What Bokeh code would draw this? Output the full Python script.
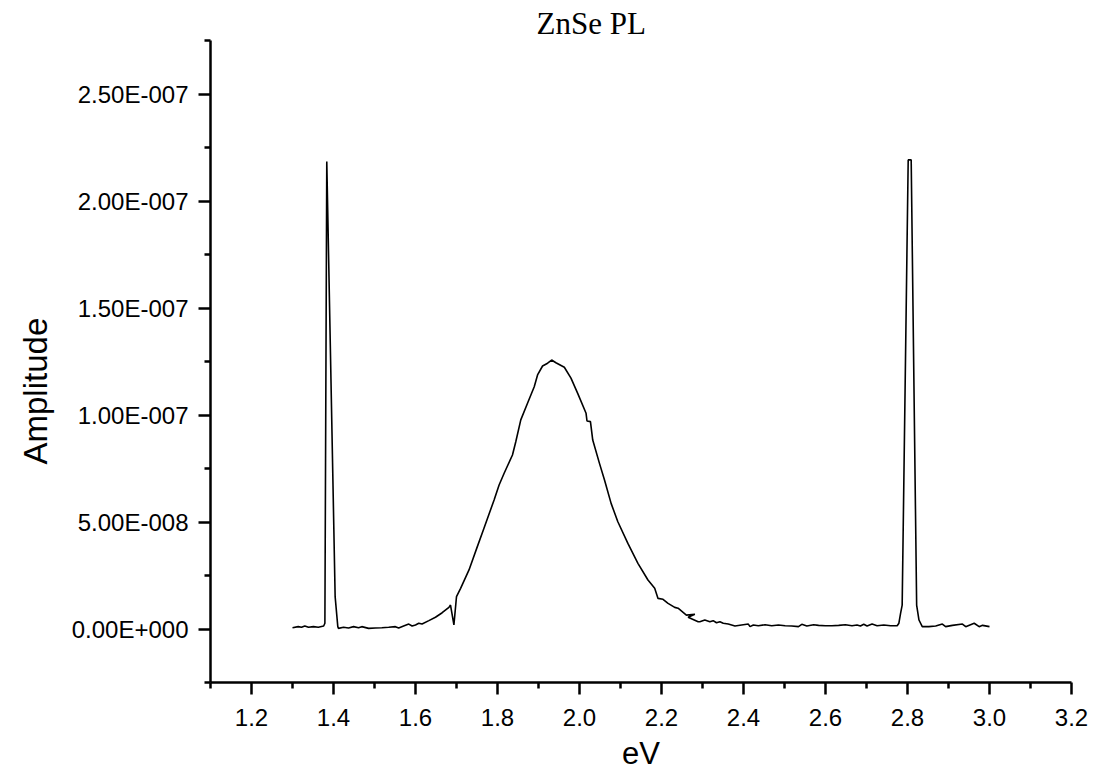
from bokeh.plotting import figure
from bokeh.models import Range1d, FixedTicker, Title
from bokeh.embed import file_html
from bokeh.resources import INLINE

# ---- data ----
energy_ev = [
    1.300, 1.314, 1.322, 1.330, 1.339, 1.351, 1.363, 1.376, 1.379, 1.3836,
    1.404, 1.4105, 1.4122, 1.4245, 1.4367, 1.449, 1.461, 1.469, 1.4857, 1.502,
    1.518, 1.5346, 1.551, 1.559, 1.571, 1.5836, 1.5917, 1.600, 1.608, 1.616,
    1.6326, 1.6487, 1.6651, 1.6815, 1.6854, 1.6937, 1.700, 1.710, 1.7305, 1.7508,
    1.767, 1.7917, 1.8039, 1.8162, 1.8365, 1.8446, 1.8568, 1.8732, 1.8896, 1.8977,
    1.9099, 1.9222, 1.932, 1.9425, 1.963, 1.9792, 1.9956, 2.016, 2.0183, 2.0267,
    2.0323, 2.0487, 2.061, 2.0771, 2.0935, 2.118, 2.1425, 2.167, 2.1834, 2.1915,
    2.2037, 2.216, 2.2323, 2.2404, 2.2607, 2.2813, 2.2649, 2.2894, 2.2935, 2.3057,
    2.318, 2.326, 2.3341, 2.3425, 2.3506, 2.3628, 2.3792, 2.3953, 2.4118, 2.4159,
    2.424, 2.4362, 2.4526, 2.4688, 2.4852, 2.5016, 2.5178, 2.5341, 2.5422, 2.5545,
    2.5709, 2.5831, 2.5995, 2.6157, 2.6321, 2.6485, 2.6646, 2.6769, 2.6852, 2.6933,
    2.7014, 2.7136, 2.7258, 2.7422, 2.7586, 2.7748, 2.779, 2.7831, 2.787, 2.8017,
    2.809, 2.8223, 2.828, 2.836, 2.852, 2.8688, 2.885, 2.893, 2.9094, 2.934,
    2.942, 2.9626, 2.9748, 2.983, 3.000,
]
amplitude_e8 = [
    0.06, 0.11, 0.08, 0.14, 0.08, 0.11, 0.08, 0.14, 0.27, 21.84,
    1.51, 0.11, 0.03, 0.08, 0.05, 0.11, 0.06, 0.11, 0.03, 0.05,
    0.06, 0.08, 0.11, 0.05, 0.14, 0.23, 0.14, 0.19, 0.27, 0.23,
    0.39, 0.55, 0.76, 1.01, 1.12, 0.19, 1.51, 1.90, 2.76, 3.85,
    4.71, 6.03, 6.73, 7.28, 8.13, 8.75, 9.77, 10.55, 11.32, 11.87,
    12.29, 12.42, 12.57, 12.44, 12.23, 11.72, 11.01, 10.08, 9.72, 9.69,
    8.83, 7.74, 6.96, 5.87, 5.01, 4.00, 3.07, 2.29, 1.90, 1.43,
    1.39, 1.20, 1.01, 0.97, 0.65, 0.69, 0.55, 0.34, 0.34, 0.42,
    0.34, 0.39, 0.29, 0.34, 0.27, 0.23, 0.14, 0.19, 0.23, 0.11,
    0.19, 0.15, 0.20, 0.15, 0.19, 0.15, 0.14, 0.11, 0.22, 0.14,
    0.20, 0.17, 0.15, 0.15, 0.17, 0.20, 0.15, 0.19, 0.14, 0.22,
    0.14, 0.23, 0.15, 0.19, 0.15, 0.15, 0.27, 0.73, 1.12, 21.92,
    21.92, 1.12, 0.42, 0.11, 0.11, 0.14, 0.23, 0.11, 0.17, 0.23,
    0.11, 0.27, 0.11, 0.17, 0.11,
]
amplitude = [a * 1e-8 for a in amplitude_e8]

x_ticks = [1.2, 1.4, 1.6, 1.8, 2.0, 2.2, 2.4, 2.6, 2.8, 3.0, 3.2]
x_tick_labels = ["1.2", "1.4", "1.6", "1.8", "2.0", "2.2", "2.4", "2.6", "2.8", "3.0", "3.2"]
x_minor = [1.1, 1.3, 1.5, 1.7, 1.9, 2.1, 2.3, 2.5, 2.7, 2.9, 3.1]
y_ticks = [0.0, 5e-08, 1e-07, 1.5e-07, 2e-07, 2.5e-07]
y_tick_labels = ["0.00E+000", "5.00E-008", "1.00E-007", "1.50E-007", "2.00E-007", "2.50E-007"]
y_minor = [-2.5e-08, 2.5e-08, 7.5e-08, 1.25e-07, 1.75e-07, 2.25e-07, 2.75e-07]

title_text = "ZnSe PL"
x_label = "eV"
y_label = "Amplitude"

# ---- layout ----
X0, X1 = 1.1, 3.2
Y0, Y1 = -2.5e-08, 2.75e-07
W, H = 1092, 780
LEFT, TOP = 210, 40
FRAME_W, FRAME_H = 861, 642

p = figure(width=W, height=H, x_range=Range1d(X0, X1), y_range=Range1d(Y0, Y1),
           output_backend="svg", toolbar_location=None,
           min_border_left=LEFT, min_border_top=TOP,
           min_border_right=W - LEFT - FRAME_W, min_border_bottom=H - TOP - FRAME_H)
p.outline_line_color = None
p.grid.visible = False
p.background_fill_color = "white"
p.border_fill_color = "white"

p.line(energy_ev, amplitude, line_color="black", line_width=1.6)

for ax in (p.xaxis[0], p.yaxis[0]):
    ax.axis_line_width = 2.5
    ax.axis_line_color = "black"
    ax.major_tick_line_width = 2.5
    ax.minor_tick_line_width = 2.5
    ax.major_tick_line_color = "black"
    ax.minor_tick_line_color = "black"
    ax.major_tick_in = 0
    ax.major_tick_out = 12
    ax.minor_tick_in = 0
    ax.minor_tick_out = 6
    ax.major_label_text_font = "Liberation Sans"
    ax.major_label_text_font_size = "24px"
    ax.major_label_text_color = "black"

p.xaxis.major_label_standoff = 14
p.yaxis.major_label_standoff = 10

p.xaxis.ticker = FixedTicker(ticks=x_ticks, minor_ticks=x_minor)
p.yaxis.ticker = FixedTicker(ticks=y_ticks, minor_ticks=y_minor)
p.xaxis.major_label_overrides = {t: s for t, s in zip(x_ticks, x_tick_labels)}
p.yaxis.major_label_overrides = {t: s for t, s in zip(y_ticks, y_tick_labels)}

p.xaxis.axis_label = x_label
p.xaxis.axis_label_text_font = "Liberation Sans"
p.xaxis.axis_label_text_font_size = "31px"
p.xaxis.axis_label_text_font_style = "normal"
p.xaxis.axis_label_text_color = "black"
p.xaxis.axis_label_standoff = 7

# plot title (top) and y-axis title (left), as Title objects
p.title = Title(text=title_text, align="left", offset=326, standoff=0,
                text_font="Liberation Serif", text_font_size="31px",
                text_font_style="normal", text_color="black")
p.add_layout(Title(text=y_label, align="left", offset=218, standoff=29,
                   text_font="Liberation Sans", text_font_size="33px",
                   text_font_style="normal", text_color="black"), "left")

open("out.html", "w").write(file_html(p, INLINE))
